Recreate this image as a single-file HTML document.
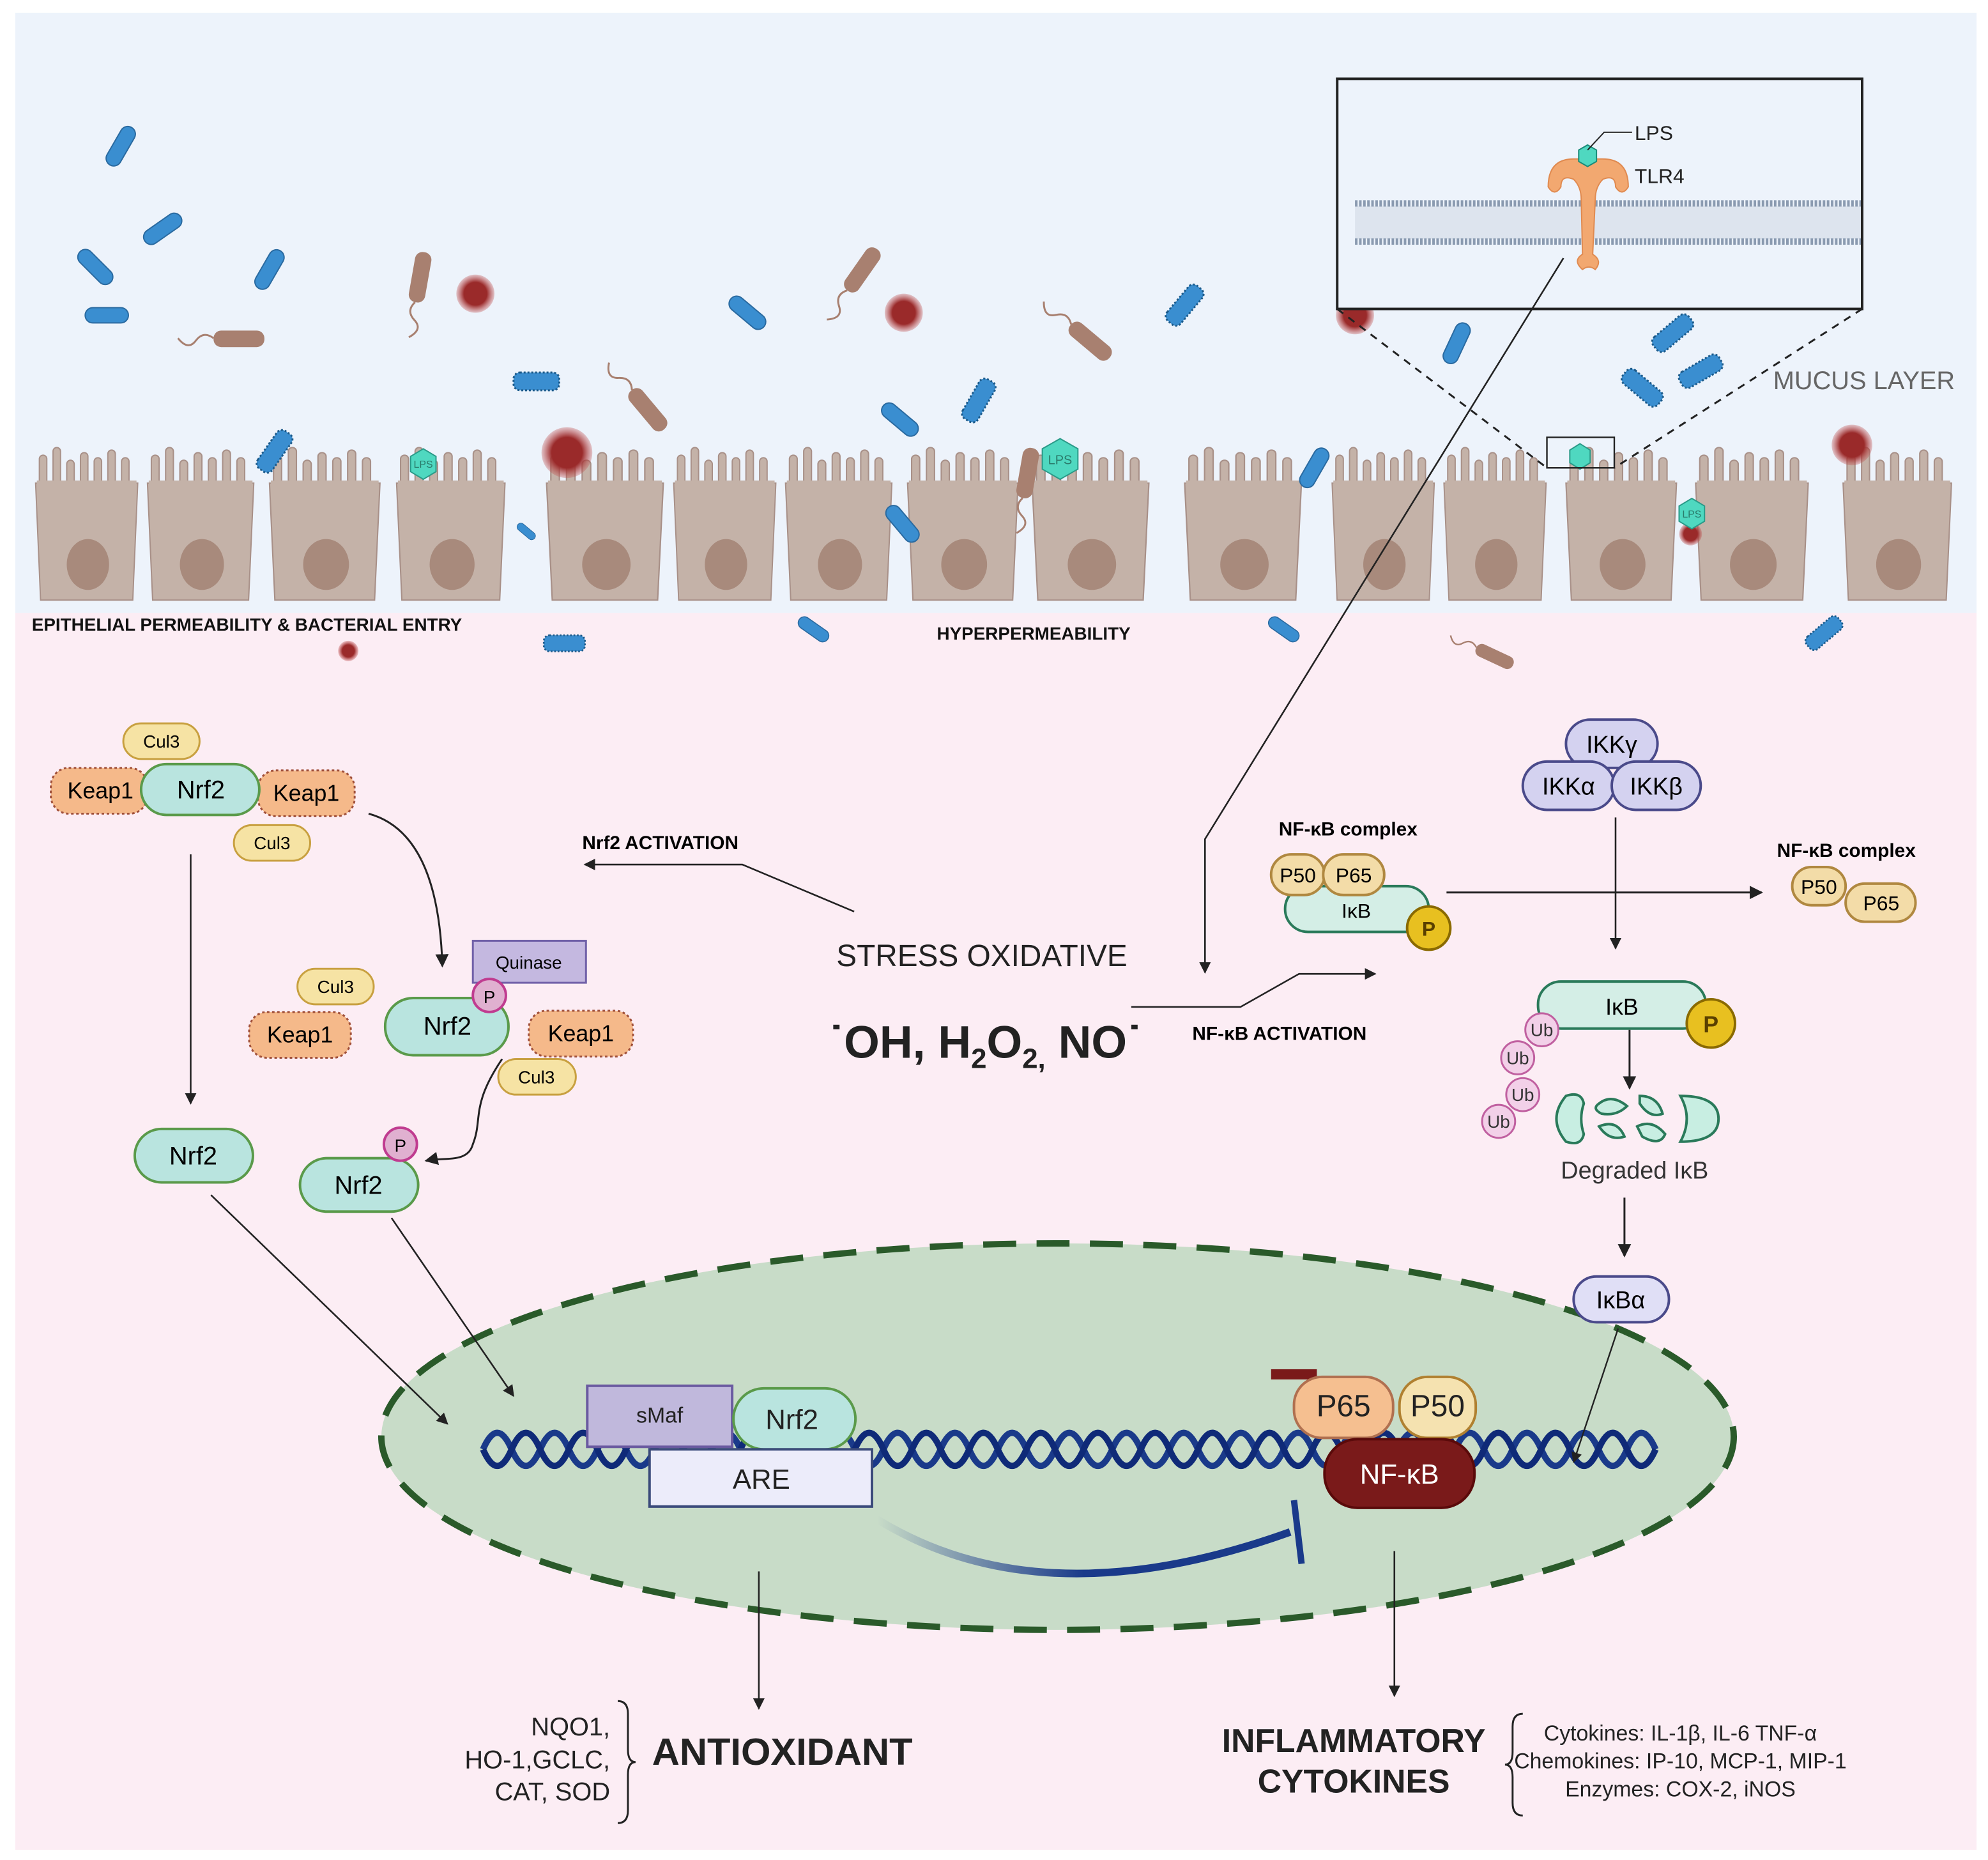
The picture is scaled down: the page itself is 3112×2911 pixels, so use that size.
<!DOCTYPE html>
<html><head><meta charset="utf-8"><style>
html,body{margin:0;padding:0;background:#fff}
svg{display:block}
text{font-family:"Liberation Sans",sans-serif}
</style></head><body>
<svg width="3112" height="2911" viewBox="0 0 1564 1463" xmlns="http://www.w3.org/2000/svg">
<defs>
<g id="cell">
<path d="M4,120 L0,28 L82,28 L78,120 Z" fill="#c4b2a8" stroke="#a89088" stroke-width="1"/>
<g fill="#c4b2a8" stroke="#a89088" stroke-width="1">
<rect x="3" y="6" width="6" height="26" rx="3"/><rect x="14" y="0" width="6" height="32" rx="3"/><rect x="25" y="10" width="6" height="22" rx="3"/><rect x="36" y="4" width="6" height="28" rx="3"/><rect x="47" y="8" width="6" height="24" rx="3"/><rect x="58" y="2" width="6" height="30" rx="3"/><rect x="69" y="8" width="6" height="24" rx="3"/>
</g>
<rect x="1" y="26" width="80" height="8" fill="#c4b2a8"/>
<ellipse cx="42" cy="92" rx="17" ry="20" fill="#a88a7c"/>
</g>
<g id="bb"><rect x="-17" y="-6" width="34" height="12" rx="6" fill="#3a8ed0" stroke="#2a6aa0" stroke-width="1"/></g>
<g id="bs"><rect x="-18" y="-7" width="36" height="14" rx="5" fill="#3a8ed0" stroke="#1c5a8a" stroke-width="1.5" stroke-dasharray="1.5 1.5"/></g>
<g id="bf"><rect x="-20" y="-6" width="40" height="13" rx="6" fill="#a88070"/><path d="M-20,0 q-8,-6 -14,2 t-14,-2" fill="none" stroke="#a88070" stroke-width="1.5"/></g>
<radialGradient id="rc"><stop offset="0.6" stop-color="#9a2a2a"/><stop offset="1" stop-color="#c05050" stop-opacity="0.3"/></radialGradient>
<linearGradient id="inh" x1="0" x2="1"><stop offset="0" stop-color="#1a3a8a" stop-opacity="0"/><stop offset="0.5" stop-color="#1a3a8a"/></linearGradient>
<marker id="ar" viewBox="0 0 10 10" refX="9" refY="5" markerWidth="7" markerHeight="7" orient="auto"><path d="M0,0 L10,5 L0,10 z" fill="#222"/></marker>
</defs>
<rect width="1564" height="1463" fill="#fff"/>
<rect x="12" y="480" width="1543" height="975" fill="#fcedf4"/>
<rect x="12" y="10" width="1543" height="472" fill="#edf3fb"/>

<!-- cells -->
<use href="#cell" transform="translate(28,352) scale(0.98,1)"/>
<use href="#cell" transform="translate(116,352) scale(1.02,1)"/>
<use href="#cell" transform="translate(212,352) scale(1.06,1)"/>
<use href="#cell" transform="translate(312,352) scale(1.04,1)"/>
<use href="#cell" transform="translate(430,352) scale(1.12,1)"/>
<use href="#cell" transform="translate(530,352) scale(0.98,1)"/>
<use href="#cell" transform="translate(618,352) scale(1.02,1)"/>
<use href="#cell" transform="translate(714,352) scale(1.06,1)"/>
<use href="#cell" transform="translate(812,352) scale(1.12,1)"/>
<use href="#cell" transform="translate(932,352) scale(1.12,1)"/>
<use href="#cell" transform="translate(1048,352) scale(0.98,1)"/>
<use href="#cell" transform="translate(1136,352) scale(0.98,1)"/>
<use href="#cell" transform="translate(1232,352) scale(1.06,1)"/>
<use href="#cell" transform="translate(1334,352) scale(1.08,1)"/>
<use href="#cell" transform="translate(1450,352) scale(1.04,1)"/>

<!-- bacteria -->
<use href="#bb" transform="translate(95,115) rotate(-60)"/>
<use href="#bb" transform="translate(128,180) rotate(-35)"/>
<use href="#bb" transform="translate(75,210) rotate(45)"/>
<use href="#bb" transform="translate(212,212) rotate(-60)"/>
<use href="#bb" transform="translate(84,248)"/>
<use href="#bb" transform="translate(588,246) rotate(40)"/>
<use href="#bb" transform="translate(708,330) rotate(40)"/>
<use href="#bb" transform="translate(1146,270) rotate(-65)"/>
<use href="#bb" transform="translate(1034,368) rotate(-60)"/>
<use href="#bb" transform="translate(710,412) rotate(50)"/>
<use href="#bb" transform="translate(414,418) rotate(40) scale(0.5)"/>
<use href="#bb" transform="translate(640,495) rotate(35) scale(0.8)"/>
<use href="#bb" transform="translate(1010,495) rotate(35) scale(0.8)"/>
<use href="#bs" transform="translate(422,300)"/>
<use href="#bs" transform="translate(770,315) rotate(-60)"/>
<use href="#bs" transform="translate(932,240) rotate(-50)"/>
<use href="#bs" transform="translate(1316,262) rotate(-40)"/>
<use href="#bs" transform="translate(1338,292) rotate(-30)"/>
<use href="#bs" transform="translate(1292,305) rotate(40)"/>
<use href="#bs" transform="translate(216,355) rotate(-55)"/>
<use href="#bs" transform="translate(444,506) scale(0.9)"/>
<use href="#bs" transform="translate(1435,498) rotate(-40) scale(0.9)"/>
<use href="#bf" transform="translate(330,218) rotate(-80)"/>
<use href="#bf" transform="translate(188,266)"/>
<use href="#bf" transform="translate(678,212) rotate(-55)"/>
<use href="#bf" transform="translate(858,268) rotate(40)"/>
<use href="#bf" transform="translate(510,322) rotate(50)"/>
<use href="#bf" transform="translate(808,372) rotate(-80)"/>
<use href="#bf" transform="translate(1176,516) rotate(25) scale(0.8)"/>
<circle cx="374" cy="231" r="15" fill="url(#rc)"/>
<circle cx="711" cy="246" r="15" fill="url(#rc)"/>
<circle cx="1066" cy="248" r="15" fill="url(#rc)"/>
<circle cx="446" cy="356" r="20" fill="url(#rc)"/>
<circle cx="1457" cy="350" r="16" fill="url(#rc)"/>
<circle cx="1330" cy="420" r="9" fill="url(#rc)"/>
<circle cx="274" cy="512" r="8" fill="url(#rc)"/>
<g fill="#4fd8c0" stroke="#2a9a88" stroke-width="1" font-size="8" text-anchor="middle">
<polygon points="333,353 343,359 343,371 333,377 323,371 323,359"/><text x="333" y="368" fill="#2a7a6a" stroke="none">LPS</text>
<polygon points="834,345 848,353 848,369 834,377 820,369 820,353"/><text x="834" y="365" fill="#2a7a6a" stroke="none" font-size="10">LPS</text>
<polygon points="1331,392 1341,398 1341,410 1331,416 1321,410 1321,398"/><text x="1331" y="407" fill="#2a7a6a" stroke="none">LPS</text>
<polygon points="1243,349 1251,354 1251,364 1243,369 1235,364 1235,354"/>
</g>
<rect x="1217" y="344" width="53" height="24" fill="none" stroke="#222" stroke-width="1.2"/>

<!-- inset -->
<rect x="1052" y="62" width="413" height="181" fill="#edf3fb" stroke="#222" stroke-width="2"/>
<rect x="1066" y="162" width="398" height="26" fill="#dde4ee"/>
<g stroke="#8a9ab0" stroke-width="5" stroke-dasharray="2 1.2">
<line x1="1066" y1="160" x2="1464" y2="160"/><line x1="1066" y1="190" x2="1464" y2="190"/>
</g>
<path d="M1238,125 q-20,0 -20,22 q5,8 10,0 q0,-10 10,-6 q6,6 6,16 L1245,200 q-8,5 0,12 q5,-4 10,0 q6,-7 -2,-12 L1255,157 q0,-10 6,-16 q10,-4 10,6 q5,8 10,0 q0,-22 -20,-22 Z" fill="#f2a870" stroke="#e08a50" stroke-width="1"/>
<polygon points="1249,114 1256,118 1256,127 1249,131 1242,127 1242,118" fill="#4fd8c0" stroke="#1a8a78"/>
<path d="M1249,118 L1262,104 L1284,104" fill="none" stroke="#222" stroke-width="1"/>
<text x="1286" y="110" font-size="16" fill="#222">LPS</text>
<text x="1286" y="144" font-size="16" fill="#222">TLR4</text>
<g stroke="#222" stroke-width="1.5" stroke-dasharray="6 5" fill="none">
<line x1="1052" y1="243" x2="1217" y2="368"/><line x1="1465" y1="243" x2="1270" y2="368"/>
</g>
<text x="1395" y="306" font-size="20" fill="#666">MUCUS LAYER</text>
<text x="25" y="496" font-size="14" font-weight="bold" fill="#111">EPITHELIAL PERMEABILITY &amp; BACTERIAL ENTRY</text>
<text x="737" y="503" font-size="14" font-weight="bold" fill="#111">HYPERPERMEABILITY</text>

<polyline points="1230,203 948,660 948,765" fill="none" stroke="#222" stroke-width="1.3" marker-end="url(#ar)"/>

<!-- nucleus -->
<ellipse cx="832" cy="1130" rx="532" ry="152" fill="#c8dcc8" stroke="#2a5a2a" stroke-width="5" stroke-dasharray="26 16"/>

<!-- DNA -->
<g fill="none" stroke-width="5">
<path stroke="#1a3a8a" d="M380,1140 q11.25,-26 22.5,0 t22.5,0 t22.5,0 t22.5,0 t22.5,0 t22.5,0 t22.5,0 t22.5,0 t22.5,0 t22.5,0 t22.5,0 t22.5,0 t22.5,0 t22.5,0 t22.5,0 t22.5,0 t22.5,0 t22.5,0 t22.5,0 t22.5,0 t22.5,0 t22.5,0 t22.5,0 t22.5,0 t22.5,0 t22.5,0 t22.5,0 t22.5,0 t22.5,0 t22.5,0 t22.5,0 t22.5,0 t22.5,0 t22.5,0 t22.5,0 t22.5,0 t22.5,0 t22.5,0 t22.5,0 t22.5,0 t22.5,0"/>
<path stroke="#0f2a78" d="M380,1140 q11.25,26 22.5,0 t22.5,0 t22.5,0 t22.5,0 t22.5,0 t22.5,0 t22.5,0 t22.5,0 t22.5,0 t22.5,0 t22.5,0 t22.5,0 t22.5,0 t22.5,0 t22.5,0 t22.5,0 t22.5,0 t22.5,0 t22.5,0 t22.5,0 t22.5,0 t22.5,0 t22.5,0 t22.5,0 t22.5,0 t22.5,0 t22.5,0 t22.5,0 t22.5,0 t22.5,0 t22.5,0 t22.5,0 t22.5,0 t22.5,0 t22.5,0 t22.5,0 t22.5,0 t22.5,0 t22.5,0 t22.5,0 t22.5,0"/>
</g>
<rect x="462" y="1090" width="114" height="48" fill="#c0b8dc" stroke="#6a5aa0" stroke-width="2"/>
<text x="519" y="1119" font-size="17" text-anchor="middle" fill="#222">sMaf</text>
<rect x="577" y="1092" width="96" height="48" rx="24" fill="#b9e4df" stroke="#5a9a4a" stroke-width="2"/>
<text x="623" y="1124" font-size="22" text-anchor="middle" fill="#222">Nrf2</text>
<rect x="511" y="1140" width="175" height="45" fill="#ececfa" stroke="#3a4a7a" stroke-width="2"/>
<text x="599" y="1171" font-size="22" text-anchor="middle" fill="#222">ARE</text>
<path d="M690,1195 Q820,1275 1015,1205" fill="none" stroke="url(#inh)" stroke-width="6"/>
<line x1="1018" y1="1180" x2="1024" y2="1230" stroke="#1a3a8a" stroke-width="5"/>
<rect x="1000" y="1077" width="36" height="8" fill="#7a1a1a"/>
<rect x="1018" y="1083" width="78" height="48" rx="22" fill="#f5bf90" stroke="#b07050" stroke-width="2"/>
<text x="1057" y="1114" font-size="24" text-anchor="middle" fill="#222">P65</text>
<rect x="1101" y="1083" width="60" height="48" rx="22" fill="#f5e2b0" stroke="#b08030" stroke-width="2"/>
<text x="1131" y="1114" font-size="24" text-anchor="middle" fill="#222">P50</text>
<rect x="1042" y="1132" width="118" height="54" rx="26" fill="#7a1a1a" stroke="#5a0a0a" stroke-width="2"/>
<text x="1101" y="1167" font-size="22" text-anchor="middle" fill="#fff">NF-κB</text>

<!-- Nrf2 pathway -->
<rect x="97" y="569" width="60" height="28" rx="14" fill="#f6e3a4" stroke="#c8a040" stroke-width="1.5"/>
<text x="127" y="588" font-size="14" text-anchor="middle">Cul3</text>
<rect x="40" y="604" width="76" height="36" rx="14" fill="#f5b98a" stroke="#a0503a" stroke-width="1.5" stroke-dasharray="2 2"/>
<text x="79" y="628" font-size="18" text-anchor="middle">Keap1</text>
<rect x="203" y="606" width="76" height="36" rx="14" fill="#f5b98a" stroke="#a0503a" stroke-width="1.5" stroke-dasharray="2 2"/>
<text x="241" y="630" font-size="18" text-anchor="middle">Keap1</text>
<rect x="111" y="601" width="93" height="40" rx="20" fill="#b9e4df" stroke="#5a9a4a" stroke-width="2"/>
<text x="158" y="628" font-size="20" text-anchor="middle">Nrf2</text>
<rect x="184" y="649" width="60" height="28" rx="14" fill="#f6e3a4" stroke="#c8a040" stroke-width="1.5"/>
<text x="214" y="668" font-size="14" text-anchor="middle">Cul3</text>
<line x1="150" y1="672" x2="150" y2="868" stroke="#222" stroke-width="1.3" marker-end="url(#ar)"/>
<path d="M290,640 Q345,655 348,760" fill="none" stroke="#222" stroke-width="1.5" marker-end="url(#ar)"/>
<text x="458" y="668" font-size="15" font-weight="bold">Nrf2 ACTIVATION</text>
<polyline points="672,717 584,680 460,680" fill="none" stroke="#222" stroke-width="1.3" marker-end="url(#ar)"/>

<rect x="372" y="740" width="89" height="33" fill="#c4b8e0" stroke="#7060a8" stroke-width="1.5"/>
<text x="416" y="762" font-size="14" text-anchor="middle">Quinase</text>
<rect x="234" y="762" width="60" height="28" rx="14" fill="#f6e3a4" stroke="#c8a040" stroke-width="1.5"/>
<text x="264" y="781" font-size="14" text-anchor="middle">Cul3</text>
<rect x="196" y="796" width="80" height="36" rx="14" fill="#f5b98a" stroke="#a0503a" stroke-width="1.5" stroke-dasharray="2 2"/>
<text x="236" y="820" font-size="18" text-anchor="middle">Keap1</text>
<rect x="303" y="785" width="97" height="45" rx="22" fill="#b9e4df" stroke="#5a9a4a" stroke-width="2"/>
<text x="352" y="814" font-size="20" text-anchor="middle">Nrf2</text>
<circle cx="385" cy="783" r="13" fill="#e0b0d0" stroke="#c03c90" stroke-width="2"/>
<text x="385" y="789" font-size="14" text-anchor="middle">P</text>
<rect x="416" y="795" width="82" height="36" rx="14" fill="#f5b98a" stroke="#a0503a" stroke-width="1.5" stroke-dasharray="2 2"/>
<text x="457" y="819" font-size="18" text-anchor="middle">Keap1</text>
<rect x="392" y="833" width="61" height="28" rx="14" fill="#f6e3a4" stroke="#c8a040" stroke-width="1.5"/>
<text x="422" y="852" font-size="14" text-anchor="middle">Cul3</text>
<path d="M395,833 C370,870 380,880 372,900 C368,915 350,910 335,913" fill="none" stroke="#222" stroke-width="1.5" marker-end="url(#ar)"/>
<rect x="106" y="888" width="93" height="42" rx="21" fill="#b9e4df" stroke="#5a9a4a" stroke-width="2"/>
<text x="152" y="916" font-size="20" text-anchor="middle">Nrf2</text>
<rect x="236" y="911" width="93" height="42" rx="21" fill="#b9e4df" stroke="#5a9a4a" stroke-width="2"/>
<text x="282" y="939" font-size="20" text-anchor="middle">Nrf2</text>
<circle cx="315" cy="900" r="13" fill="#e0b0d0" stroke="#c03c90" stroke-width="2"/>
<text x="315" y="906" font-size="14" text-anchor="middle">P</text>
<line x1="166" y1="940" x2="352" y2="1120" stroke="#222" stroke-width="1.3" marker-end="url(#ar)"/>
<line x1="308" y1="958" x2="404" y2="1098" stroke="#222" stroke-width="1.3" marker-end="url(#ar)"/>

<text x="658" y="760" font-size="24" fill="#222">STRESS OXIDATIVE</text>
<text x="652" y="832" font-size="36" font-weight="bold" fill="#222">˙OH, H<tspan font-size="22" dy="8">2</tspan><tspan dy="-8">O</tspan><tspan font-size="22" dy="8">2,</tspan><tspan dy="-8"> NO˙</tspan></text>
<text x="938" y="818" font-size="15" font-weight="bold">NF-κB ACTIVATION</text>
<polyline points="890,792 976,792 1022,766 1082,766" fill="none" stroke="#222" stroke-width="1.3" marker-end="url(#ar)"/>

<text x="1006" y="657" font-size="15" font-weight="bold">NF-κB complex</text>
<rect x="1011" y="697" width="113" height="36" rx="18" fill="#d4eee6" stroke="#2a7a5a" stroke-width="2"/>
<text x="1067" y="722" font-size="16" text-anchor="middle">IκB</text>
<rect x="1000" y="672" width="42" height="32" rx="16" fill="#f3dca8" stroke="#b08840" stroke-width="2"/>
<text x="1021" y="694" font-size="16" text-anchor="middle">P50</text>
<rect x="1041" y="672" width="48" height="32" rx="16" fill="#f3dca8" stroke="#b08840" stroke-width="2"/>
<text x="1065" y="694" font-size="16" text-anchor="middle">P65</text>
<circle cx="1124" cy="730" r="17" fill="#e8c020" stroke="#8a6a00" stroke-width="2"/>
<text x="1124" y="736" font-size="16" font-weight="bold" text-anchor="middle" fill="#5a4000">P</text>
<line x1="1138" y1="702" x2="1386" y2="702" stroke="#222" stroke-width="1.5" marker-end="url(#ar)"/>
<rect x="1232" y="566" width="72" height="38" rx="19" fill="#d4d2f0" stroke="#4a4a8a" stroke-width="2"/>
<text x="1268" y="592" font-size="19" text-anchor="middle">IKKγ</text>
<rect x="1198" y="599" width="72" height="38" rx="19" fill="#d4d2f0" stroke="#4a4a8a" stroke-width="2"/>
<text x="1234" y="625" font-size="19" text-anchor="middle">IKKα</text>
<rect x="1268" y="599" width="70" height="38" rx="19" fill="#d4d2f0" stroke="#4a4a8a" stroke-width="2"/>
<text x="1303" y="625" font-size="19" text-anchor="middle">IKKβ</text>
<line x1="1271" y1="643" x2="1271" y2="746" stroke="#222" stroke-width="1.3" marker-end="url(#ar)"/>
<text x="1398" y="674" font-size="15" font-weight="bold">NF-κB complex</text>
<rect x="1410" y="682" width="42" height="30" rx="15" fill="#f3dca8" stroke="#b08840" stroke-width="2"/>
<text x="1431" y="703" font-size="16" text-anchor="middle">P50</text>
<rect x="1452" y="695" width="55" height="30" rx="15" fill="#f3dca8" stroke="#b08840" stroke-width="2"/>
<text x="1480" y="716" font-size="16" text-anchor="middle">P65</text>
<rect x="1210" y="772" width="132" height="37" rx="18" fill="#d4eee6" stroke="#2a7a5a" stroke-width="2"/>
<text x="1276" y="798" font-size="18" text-anchor="middle">IκB</text>
<circle cx="1346" cy="805" r="19" fill="#e8c020" stroke="#8a6a00" stroke-width="2"/>
<text x="1346" y="812" font-size="18" font-weight="bold" text-anchor="middle" fill="#5a4000">P</text>
<g fill="#f2d0e8" stroke="#c060a0" stroke-width="1.5">
<circle cx="1213" cy="810" r="13"/><circle cx="1194" cy="832" r="13"/><circle cx="1198" cy="861" r="13"/><circle cx="1179" cy="882" r="13"/>
</g>
<g font-size="14" text-anchor="middle" fill="#333"><text x="1213" y="815">Ub</text><text x="1194" y="837">Ub</text><text x="1198" y="866">Ub</text><text x="1179" y="887">Ub</text></g>
<line x1="1282" y1="810" x2="1282" y2="856" stroke="#222" stroke-width="1.5" marker-end="url(#ar)"/>
<g fill="#c8eee2" stroke="#2a7a5a" stroke-width="2">
<path d="M1232,862 q-15,18 0,36 q12,4 14,-6 q-4,-12 0,-24 q-2,-10 -14,-6z"/>
<path d="M1258,868 q10,-8 22,2 q-8,8 -20,6 q-8,-4 -2,-8z M1258,886 q14,-6 20,8 q-12,4 -20,-8z"/>
<path d="M1290,862 q14,0 18,14 q-10,4 -18,-8z M1288,886 q12,-6 22,6 q-4,10 -18,2z"/>
<path d="M1322,862 q30,0 30,18 q0,18 -30,18 q10,-18 0,-36z"/>
</g>
<text x="1286" y="927" font-size="19" text-anchor="middle" fill="#333">Degraded IκB</text>
<line x1="1278" y1="942" x2="1278" y2="988" stroke="#222" stroke-width="1.5" marker-end="url(#ar)"/>
<rect x="1238" y="1004" width="75" height="36" rx="18" fill="#e0dff6" stroke="#4a4a8a" stroke-width="2"/>
<text x="1275" y="1029" font-size="19" text-anchor="middle">IκBα</text>
<line x1="1273" y1="1045" x2="1238" y2="1150" stroke="#222" stroke-width="1.2" marker-end="url(#ar)"/>

<line x1="597" y1="1236" x2="597" y2="1344" stroke="#222" stroke-width="1.3" marker-end="url(#ar)"/>
<line x1="1097" y1="1220" x2="1097" y2="1334" stroke="#222" stroke-width="1.3" marker-end="url(#ar)"/>
<g font-size="20" text-anchor="end" fill="#222"><text x="480" y="1365">NQO1,</text><text x="480" y="1391">HO-1,GCLC,</text><text x="480" y="1416">CAT, SOD</text></g>
<path d="M486,1338 q8,0 8,10 v28 q0,10 6,10 q-6,0 -6,10 v28 q0,10 -8,10" fill="none" stroke="#222" stroke-width="1.5"/>
<text x="513" y="1388" font-size="30" font-weight="bold" fill="#222">ANTIOXIDANT</text>
<g font-size="26" font-weight="bold" text-anchor="middle" fill="#222"><text x="1065" y="1378">INFLAMMATORY</text><text x="1065" y="1410">CYTOKINES</text></g>
<path d="M1198,1348 q-8,0 -8,10 v20 q0,10 -6,10 q6,0 6,10 v20 q0,10 8,10" fill="none" stroke="#222" stroke-width="1.5"/>
<g font-size="17" text-anchor="middle" fill="#222"><text x="1322" y="1369">Cytokines: IL-1β, IL-6 TNF-α</text><text x="1322" y="1391">Chemokines: IP-10, MCP-1, MIP-1</text><text x="1322" y="1413">Enzymes: COX-2, iNOS</text></g>
</svg>
</body></html>
